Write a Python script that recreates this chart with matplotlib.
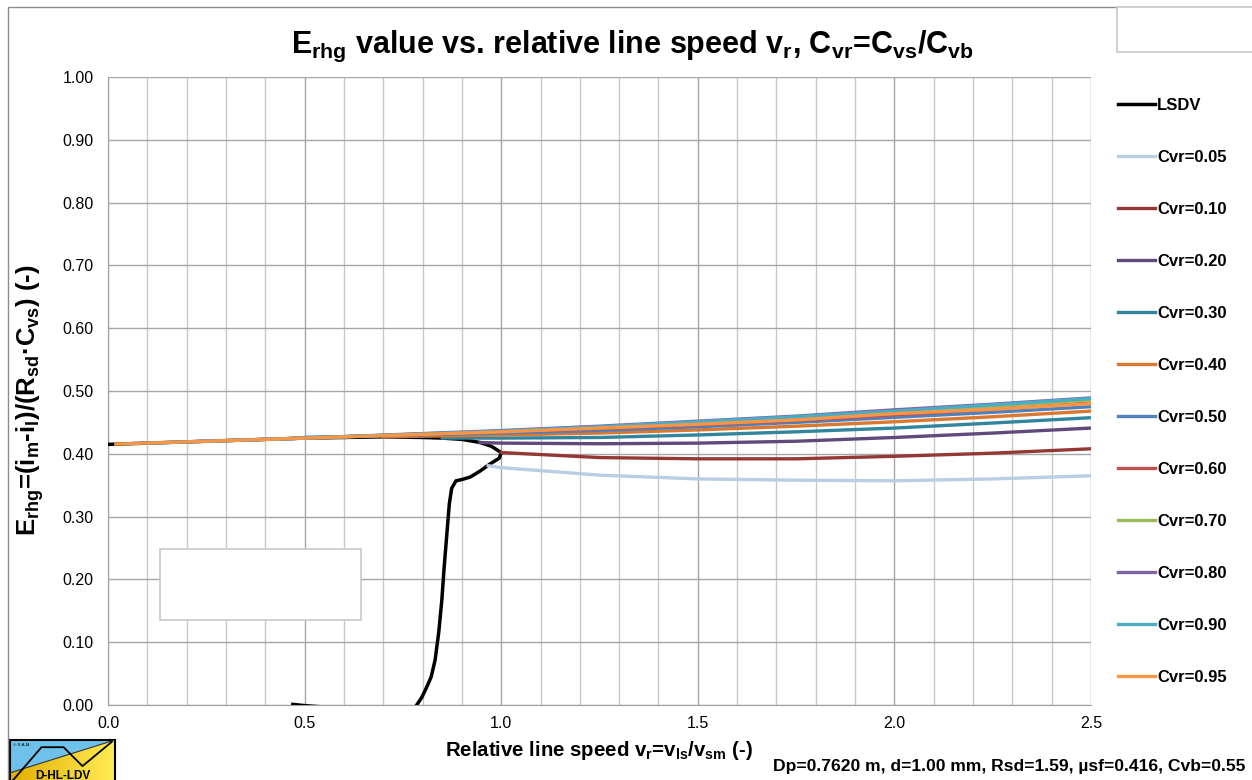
import matplotlib
matplotlib.use('Agg')
import matplotlib.pyplot as plt
import numpy as np
from matplotlib.patches import Rectangle, Polygon

plt.rcParams['font.family'] = ['Liberation Sans', 'DejaVu Sans']
plt.rcParams['mathtext.fontset'] = 'custom'
plt.rcParams['mathtext.rm'] = 'Liberation Sans'
plt.rcParams['mathtext.bf'] = 'Liberation Sans:bold'
plt.rcParams['mathtext.default'] = 'bf'

# === DATA ===
lsdv_x = [0.0, 0.1, 0.2, 0.3, 0.4, 0.5, 0.6, 0.7, 0.8, 0.85, 0.9, 0.946, 0.975, 1.0,
          0.995, 0.972, 0.945, 0.921, 0.90, 0.885, 0.874, 0.868, 0.862, 0.855, 0.849,
          0.841, 0.832, 0.822, 0.811, 0.798, 0.785, np.nan, 0.47, 0.50, 0.545]
lsdv_y = [0.415, 0.417, 0.419, 0.421, 0.423, 0.425, 0.426, 0.427, 0.426, 0.425, 0.423, 0.418, 0.412, 0.402,
          0.393, 0.384, 0.372, 0.363, 0.359, 0.357, 0.345, 0.320, 0.274, 0.220, 0.167,
          0.115, 0.072, 0.045, 0.029, 0.012, 0.0, np.nan, 0.001, -0.001, -0.003]

vr_tail = [1.0, 1.25, 1.5, 1.75, 2.0, 2.25, 2.5]
cvr_labels = ['Cvr=0.05', 'Cvr=0.10', 'Cvr=0.20', 'Cvr=0.30', 'Cvr=0.40', 'Cvr=0.50',
              'Cvr=0.60', 'Cvr=0.70', 'Cvr=0.80', 'Cvr=0.90', 'Cvr=0.95']
cvr_start_x = [0.967, None, 0.946, 0.85, 0.70, 0.55, 0.40, 0.30, 0.20, 0.10, 0.02]
cvr_start_y = [0.381, None, 0.418, 0.425, 0.427, 0.426, 0.423, 0.421, 0.419, 0.417, 0.4155]
cvr_mid_y = [None, None, None, None, None, 0.426, 0.425, 0.425, 0.425, 0.425, 0.425]  # at vr=0.5
cvr_tail_y = [
    [0.378, 0.366, 0.360, 0.358, 0.357, 0.360, 0.365],
    [0.402, 0.394, 0.392, 0.392, 0.396, 0.401, 0.408],
    [0.417, 0.416, 0.417, 0.420, 0.426, 0.433, 0.441],
    [0.425, 0.426, 0.430, 0.435, 0.441, 0.449, 0.4575],
    [0.430, 0.433, 0.438, 0.444, 0.451, 0.459, 0.468],
    [0.433, 0.437, 0.443, 0.450, 0.458, 0.466, 0.475],
    [0.435, 0.440, 0.446, 0.453, 0.462, 0.471, 0.481],
    [0.436, 0.442, 0.449, 0.457, 0.466, 0.476, 0.486],
    [0.437, 0.444, 0.452, 0.460, 0.470, 0.479, 0.489],
    [0.436, 0.443, 0.451, 0.459, 0.468, 0.478, 0.488],
    [0.435, 0.441, 0.447, 0.454, 0.464, 0.471, 0.480],
]
cvr_colors = ['#B9CDE5', '#953735', '#604A7B', '#31859C', '#D9782E', '#4F81BD',
              '#C0504D', '#9BBB59', '#8064A2', '#4BACC6', '#F79646']

info_text = 'Dp=0.7620 m, d=1.00 mm, Rsd=1.59, µsf=0.416, Cvb=0.55'

W, H = 1252, 780
fig = plt.figure(figsize=(W / 100, H / 100), dpi=100)
fig.patch.set_facecolor('white')

# chart frame + empty box top-right
fig.add_artist(Rectangle((8 / W, -0.1), 1.2, 1.1 - 7 / H, transform=fig.transFigure,
                         fill=False, edgecolor='#8C8C8C', lw=1.0))
fig.add_artist(Rectangle((1117 / W, 1 - 52 / H), 0.2, 45 / H, transform=fig.transFigure,
                         facecolor='white', edgecolor='#C8C8C8', lw=1.2))

ax = fig.add_axes([108 / W, 1 - 705 / H, 983 / W, 628 / H])
ax.set_xlim(0, 2.5)
ax.set_ylim(0, 1.0)
ax.set_xticks(np.arange(0, 2.51, 0.5))
ax.set_xticks(np.arange(0, 2.51, 0.1), minor=True)
ax.set_yticks(np.arange(0, 1.01, 0.1))
ax.set_xticklabels([f'{v:.1f}' for v in np.arange(0, 2.51, 0.5)])
ax.set_yticklabels([f'{v:.2f}' for v in np.arange(0, 1.01, 0.1)])
ax.tick_params(which='both', length=0, labelsize=11.5, colors='#000000')
ax.tick_params(axis='x', pad=8)
ax.tick_params(axis='y', pad=10.5)
ax.set_axisbelow(True)
ax.grid(which='minor', axis='x', color='#C8C8C8', lw=1.0)
ax.grid(which='major', axis='both', color='#A6A6A6', lw=1.0)
for s in ['top', 'right']:
    ax.spines[s].set_visible(False)
for s in ['left', 'bottom']:
    ax.spines[s].set_color('#A0A0A0')

ax.add_patch(Rectangle((0.132, 0.135), 0.511, 0.113, facecolor='white',
                       edgecolor='#C8C8C8', lw=1.2, zorder=1.5))

ax.plot(lsdv_x, lsdv_y, color='black', lw=2.5, label='LSDV', zorder=3)
for i in range(len(cvr_labels)):
    xs, ys = [], []
    if cvr_start_x[i] is not None:
        xs.append(cvr_start_x[i]); ys.append(cvr_start_y[i])
    if cvr_mid_y[i] is not None:
        xs.append(0.5); ys.append(cvr_mid_y[i])
    xs += vr_tail; ys += cvr_tail_y[i]
    ax.plot(xs, ys, color=cvr_colors[i], lw=2.4, label=cvr_labels[i], zorder=3 + i * 0.1)

leg = ax.legend(loc='upper left', bbox_to_anchor=(1118 / W, 1 - 98 / H),
                bbox_transform=fig.transFigure, frameon=False, borderpad=0,
                borderaxespad=0, handlelength=2.2, handletextpad=0.15,
                labelspacing=2.22, prop={'weight': 'bold', 'size': 12})

fig.text(632 / W, 1 - 46 / H,
         r'E$_{rhg}$ value vs. relative line speed v$_{r}$, C$_{vr}$=C$_{vs}$/C$_{vb}$',
         ha='center', va='center', fontsize=22, fontweight='bold')
fig.text(599 / W, 1 - 750 / H, r'Relative line speed v$_{r}$=v$_{ls}$/v$_{sm}$ (-)',
         ha='center', va='center', fontsize=14.7, fontweight='bold')
fig.text(30 / W, 1 - 400 / H, r'E$_{rhg}$=(i$_{m}$-i$_{l}$)/(R$_{sd}$·C$_{vs}$) (-)',
         ha='center', va='center', rotation=90, fontsize=18.5, fontweight='bold')
fig.text(1245 / W, 1 - 766 / H, info_text, ha='right', va='center', fontsize=12.6,
         fontweight='bold')

# small logo, bottom left
lg = fig.add_axes([10 / W, -5 / H, 105 / W, 45 / H])
lg.set_xlim(0, 1)
lg.set_ylim(0, 1)
lg.set_xticks([]); lg.set_yticks([])
grad = np.linspace(0, 1, 100).reshape(1, -1)
yel = matplotlib.colors.LinearSegmentedColormap.from_list('y', ['#E2AE00', '#FFEC55'])
im = lg.imshow(grad, extent=[0, 1, 0, 1], aspect='auto', cmap=yel, zorder=1)
clip = Polygon([(0, 0), (0, 0.27), (1, 1), (1, 0)], closed=True, transform=lg.transData)
im.set_clip_path(clip)
lg.add_patch(Polygon([(0, 0.27), (0, 1), (1, 1)], closed=True, facecolor='#6EC1EA',
                     edgecolor='none', zorder=2))
lg.plot([0, 1], [0.27, 1], color='#333333', lw=0.8, zorder=3)
lg.plot([0.03, 0.30, 0.51, 0.69, 0.97], [0.11, 0.84, 0.84, 0.42, 0.96], color='black',
        lw=1.3, zorder=4)
lg.text(0.5, 0.2, 'D-HL-LDV', ha='center', va='center', fontsize=8.5, fontweight='bold',
        zorder=5)
lg.text(0.03, 0.9, '© S.A.M.', ha='left', va='center', fontsize=3.2, zorder=5)
for s in lg.spines.values():
    s.set_color('black')
    s.set_linewidth(1.5)

fig.savefig('out.png', dpi=100, facecolor='white')
